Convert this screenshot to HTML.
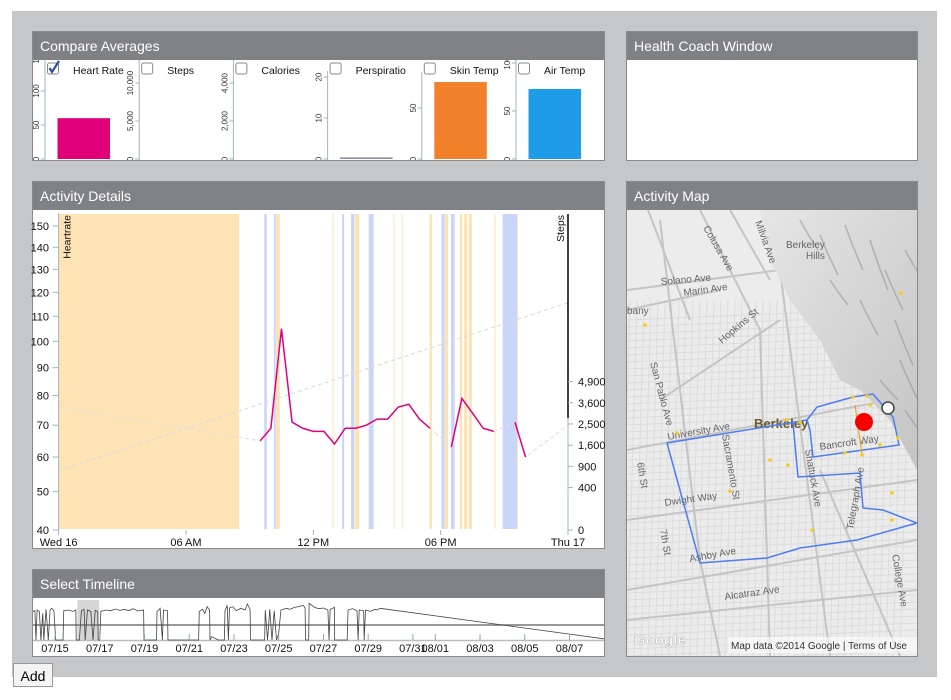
<!DOCTYPE html>
<html><head><meta charset="utf-8">
<style>
html,body{margin:0;padding:0;background:#fff;width:951px;height:700px;overflow:hidden;font-family:"Liberation Sans",sans-serif}
#wrap{position:absolute;left:12px;top:11px;width:925px;height:666px;background:#c6c7c8}
.panel{position:absolute;background:#fff;border:1px solid #8a8a8d;box-sizing:border-box}
.hdr{position:absolute;left:0;top:0;right:0;height:28px;background:#808184;color:#fff;font-size:14px;line-height:29px;padding-left:7px}
#add{position:absolute;left:13px;top:663px;width:40px;height:24px;border:1px solid #999;background:#f4f4f4;font-size:14px;line-height:24px;text-align:center;box-sizing:border-box}
svg{position:absolute;left:0;top:0}
text{font-family:"Liberation Sans",sans-serif}
</style></head><body>
<div id="wrap"></div>
<div class="panel" style="left:32px;top:31px;width:573px;height:130px"><div class="hdr">Compare Averages</div></div>
<div class="panel" style="left:626px;top:31px;width:292px;height:130px"><div class="hdr">Health Coach Window</div></div>
<div class="panel" style="left:32px;top:181px;width:573px;height:368px"><div class="hdr">Activity Details</div></div>
<div class="panel" style="left:626px;top:181px;width:292px;height:476px"><div class="hdr">Activity Map</div></div>
<div class="panel" style="left:32px;top:569px;width:573px;height:88px"><div class="hdr">Select Timeline</div></div>
<div id="add">Add</div>
<svg id="s" width="951" height="700">
<defs>
<clipPath id="mapclip"><rect x="627" y="210" width="290" height="446"/></clipPath>
<clipPath id="tlclip"><rect x="33" y="598" width="571" height="58"/></clipPath>
<clipPath id="avclip"><rect x="33" y="60" width="571" height="100"/></clipPath>
<linearGradient id="hill" x1="0" y1="0" x2="1" y2="1"><stop offset="0" stop-color="#e6e6e6"/><stop offset="1" stop-color="#c4c4c4"/></linearGradient>
</defs>
<g id="avg" clip-path="url(#avclip)"></g>
<g id="act"></g>
<g id="map" clip-path="url(#mapclip)"></g>
<g id="tl" clip-path="url(#tlclip)"></g>
</svg>
<script>
const NS='http://www.w3.org/2000/svg';
function mk(p,tag,a){const e=document.createElementNS(NS,tag);for(const k in a)e.setAttribute(k,a[k]);p.appendChild(e);return e;}

// ---------- Compare Averages data ----------
const avgLabels=['Heart Rate','Steps','Calories','Perspiratio','Skin Temp','Air Temp'];
const avgValues=[60,0,0,0.4,75.4,72.9];
const avgMax=[144,12900,5160,23.9,96,102];
const avgTicks=[[0,50,100,150],[0,5000,10000,15000],[0,2000,4000,6000],[0,10,20],[0,50],[0,50,100]];
const avgChecked=[true,false,false,false,false,false];
const avgColors=['#e2007a','#888','#888','#8f8f9f','#f1812a','#1f9ce8'];

const gA=document.getElementById('avg');
avgLabels.forEach((lab,i)=>{
  const ax=45+i*94.2, bot=159, H=98;
  const y=v=>bot-v/avgMax[i]*H;
  const g=mk(gA,'g',{});
  
  
  const line=mk(g,'line',{x1:ax,y1:i==3?71:(i==4?72:60),x2:ax,y2:bot+2,stroke:'#9fb4c4','stroke-width':1});
  
  
  avgTicks[i].forEach(t=>{
    const ty=y(t);
    mk(g,'line',{x1:ax-4,y1:ty,x2:ax,y2:ty,stroke:'#9fb4c4'});
    const tx=mk(g,'text',{x:0,y:0,'font-size':8,fill:'#333','text-anchor':'middle',transform:`translate(${ax-6},${ty}) rotate(-90)`});
    tx.textContent=t.toLocaleString('en-US');
    
    
  });
  const bh=avgValues[i]/avgMax[i]*H;
  const b=mk(g,'rect',{x:ax+12.5,y:bot-bh,width:52.5,height:bh,fill:avgColors[i]});
  
  
  const cb=mk(g,'rect',{x:ax+2.5,y:63,width:11,height:11,rx:2,fill:'#fff',stroke:'#888'});
  
  
  if(avgChecked[i]){mk(g,'path',{d:`M${ax+4.5},68 L${ax+7},72 L${ax+14},61`,fill:'none',stroke:'#2a4f9a','stroke-width':2.2});}
  const lt=mk(g,'text',{x:ax+28,y:74,'font-size':10.5,fill:'#111'});
  lt.textContent=lab;
  
  
});

// ---------- Activity Details data ----------
const hrHours=[9.5,10,10.5,11,11.5,12,12.5,13,13.5,14,14.5,15,15.5,16,16.5,17,17.5,18,18.5,19,19.5,20,20.5,21,21.5,22];
const hrValues=[65,69,105,71,69,68,68,64,69,69,70,72,72,76,77,72,69,null,63,79,74,69,68,null,71,60];
const hrEdgeValues=[76,70];
const stepsHours=[0,24];
const stepsValues=[790,11500];
const hrTicks=[40,50,60,70,80,90,100,110,120,130,140,150];
const stepsTicks=[0,400,900,1600,2500,3600,4900];
const xTickHours=[0,6,12,18,24];
const xTickLabels=['Wed 16','06 AM','12 PM','06 PM','Thu 17'];
const sleepBlocks=[[0,8.5]];
const orangeStripes=[[10.24,10.42],[12.91,12.95],[13.95,14.16],[15.78,15.82],[16.16,16.2],[17.48,17.59],[18.19,18.35],[18.9,19.02],[19.1,19.25],[19.32,19.47],[20.54,20.58],[21.6,21.64]];
const blueStripes=[[9.69,9.81],[10.14,10.23],[13.36,13.45],[13.78,13.93],[14.61,14.84],[18.04,18.18],[18.49,18.66],[20.92,21.6]];

const X0=58.6,X1=568,YB=530,YT=214;
const xT=h=>X0+h/24*(X1-X0);
const yHR=v=>YB-(Math.sqrt(v)-Math.sqrt(40))*51.33;
const ySt=v=>YB-Math.sqrt(v)*2.12;
const gD=document.getElementById('act');
sleepBlocks.forEach(s=>{const r=mk(gD,'rect',{x:xT(s[0]),y:YT,width:xT(s[1])-xT(s[0]),height:YB-YT-1,fill:'#fee3b5'});});
orangeStripes.forEach(s=>{const r=mk(gD,'rect',{x:xT(s[0]),y:YT,width:Math.max(1,xT(s[1])-xT(s[0])),height:YB-YT-1,fill:'#fee3b5'});});
blueStripes.forEach(s=>{const r=mk(gD,'rect',{x:xT(s[0]),y:YT,width:xT(s[1])-xT(s[0]),height:YB-YT-1,fill:'#c9d5f9'});});
{const p=mk(gD,'path',{d:'M'+stepsHours.map((h,i)=>xT(h)+','+ySt(stepsValues[i])).join(' L'),fill:'none',stroke:'#ddd','stroke-dasharray':'4,3','stroke-width':1.2});}
{const pts=[[0,hrEdgeValues[0]]];hrHours.forEach((h,i)=>{if(hrValues[i]!=null)pts.push([h,hrValues[i]]);});pts.push([24,hrEdgeValues[1]]);
 const p=mk(gD,'path',{d:'M'+pts.map(q=>xT(q[0])+','+yHR(q[1])).join(' L'),fill:'none',stroke:'#e8dede','stroke-dasharray':'4,3','stroke-width':1.2});}
{let d='',pen=false;hrHours.forEach((h,i)=>{const v=hrValues[i];if(v==null){pen=false;return;}d+=(pen?' L':' M')+xT(h)+','+yHR(v);pen=true;});
 const p=mk(gD,'path',{d:d,fill:'none',stroke:'#e2007a','stroke-width':1.5});}
mk(gD,'line',{x1:X0,y1:YT-1,x2:X0,y2:YB,stroke:'#9fb4c4'});
hrTicks.forEach(t=>{const y=yHR(t);mk(gD,'line',{x1:X0-6,y1:y,x2:X0,y2:y,stroke:'#9fb4c4'});const tx=mk(gD,'text',{x:49,y:y+4,'font-size':11,'text-anchor':'end',fill:'#111'});tx.textContent=t;});
{const t=mk(gD,'text',{x:0,y:0,'font-size':10.5,'text-anchor':'end',fill:'#111',transform:`translate(${X0+12},${YT+1}) rotate(-90)`});t.textContent='Heartrate';}
mk(gD,'line',{x1:X1,y1:YT,x2:X1,y2:YB,stroke:'#9fb4c4'});
mk(gD,'line',{x1:X1,y1:YT,x2:X1,y2:ySt(2800),stroke:'#000','stroke-width':1.5});
stepsTicks.forEach(t=>{const y=ySt(t);mk(gD,'line',{x1:X1,y1:y,x2:X1+5,y2:y,stroke:'#9fb4c4'});const tx=mk(gD,'text',{x:X1+10,y:y+4,'font-size':11,fill:'#111'});tx.textContent=t.toLocaleString('en-US');});
{const t=mk(gD,'text',{x:0,y:0,'font-size':10.5,'text-anchor':'end',fill:'#111',transform:`translate(${X1-4},${YT+1}) rotate(-90)`});t.textContent='Steps';}
xTickHours.forEach((h,i)=>{const x=xT(h);mk(gD,'line',{x1:x,y1:YB,x2:x,y2:YB+5,stroke:'#9fb4c4'});const tx=mk(gD,'text',{x:x,y:546,'font-size':11,'text-anchor':'middle',fill:'#111'});tx.textContent=xTickLabels[i];});

// ---------- Timeline data ----------
const tlDays=[14.0,14.1,14.15,14.2,14.3,14.37,14.45,14.5,14.6,14.7,14.78,14.85,14.95,15.03,15.36,15.39,15.6,15.8,15.93,15.95,16.09,16.18,16.3,16.35,16.45,16.6,16.7,16.8,16.91,16.93,17.0,17.05,17.3,17.5,17.7,17.9,18.1,18.3,18.5,18.7,18.96,18.98,19.54,19.56,19.7,19.8,19.85,20.03,20.05,21.42,21.45,21.6,21.7,21.8,21.91,21.93,22.0,22.3,22.57,22.6,22.7,22.75,22.8,22.95,23.1,23.3,23.5,23.6,23.72,23.74,24.37,24.4,24.5,24.6,24.7,24.8,24.9,25.0,25.1,25.36,25.5,25.7,25.9,26.1,26.18,26.2,26.34,26.36,26.6,26.8,27.0,27.2,27.25,27.3,27.49,27.5,28.06,28.1,28.3,28.5,28.55,28.6,28.8,28.82,28.88,29.1,29.3,29.4,29.54,39.6];
const tlVals=[85,88,0,90,86,0,80,0,92,0,90,95,88,0,0,88,90,86,90,0,0,88,92,0,90,86,0,89,85,0,0,86,90,88,93,89,92,88,94,87,90,0,0,85,95,0,90,88,0,0,86,92,80,100,90,0,10,0,0,88,104,0,96,100,88,95,90,108,92,0,0,90,0,92,0,88,0,20,90,95,92,98,100,104,96,0,0,110,98,94,96,90,0,92,98,0,0,90,94,88,0,90,88,0,90,86,92,90,95,3];
const tlTickDays=[15,17,19,21,23,25,27,29,31,32,34,36,38];
const tlTickLabels=['07/15','07/17','07/19','07/21','07/23','07/25','07/27','07/29','07/31','08/01','08/03','08/05','08/07'];
const tlSelection=[16.0,16.97];
const xD=d=>55+(d-15)*22.37;
const yTL=v=>640-v/120*40;
const gT=document.getElementById('tl');
{const r=mk(gT,'rect',{x:xD(tlSelection[0]),y:600,width:xD(tlSelection[1])-xD(tlSelection[0]),height:40,fill:'#d6d6d6'});}
mk(gT,'line',{x1:33,y1:625,x2:604,y2:625,stroke:'#777','stroke-width':1.5});
mk(gT,'line',{x1:33,y1:640.5,x2:604,y2:640.5,stroke:'#bbb','stroke-width':1.5});
{const p=mk(gT,'path',{d:'M'+tlDays.map((d,i)=>xD(d)+','+yTL(tlVals[i])).join(' L'),fill:'none',stroke:'#444','stroke-width':0.8});}
tlTickDays.forEach((d,i)=>{const x=xD(d);mk(gT,'line',{x1:x,y1:634,x2:x,y2:640,stroke:'#8aa'});const t=mk(gT,'text',{x:x,y:652,'font-size':11,'text-anchor':'middle',fill:'#111'});t.textContent=tlTickLabels[i];});

// ---------- Map ----------
const gM=document.getElementById('map');
mk(gM,'rect',{x:627,y:210,width:290,height:446,fill:'#ececec'});
for(let x=630;x<917;x+=7)mk(gM,'line',{x1:x,y1:300,x2:x-10,y2:656,stroke:'#dcdcdc','stroke-width':1});
for(let y=320;y<670;y+=7)mk(gM,'line',{x1:627,y1:y,x2:917,y2:y-12,stroke:'#dcdcdc','stroke-width':1});
const roads=['M660,220 L700,560 L720,656','M700,210 L760,330 L770,656','M730,210 L770,280','M627,290 L780,270','M627,310 L720,290','M627,450 L890,400','M627,520 L917,480','M627,590 L917,540','M627,620 L917,590','M780,270 L830,656','M820,470 L900,656','M648,210 L690,320','M660,400 L780,320'];
roads.forEach(d=>mk(gM,'path',{d:d,fill:'none',stroke:'#c4c4c4','stroke-width':2}));
mk(gM,'path',{d:'M760,210 L917,210 L917,470 L890,420 L860,390 L840,380 L820,340 L790,300 L770,260 Z',fill:'url(#hill)'});
const streaks=[[800,220,30],[820,235,40],[845,225,45],[870,240,50],[885,270,40],[860,300,35],[895,320,45],[900,360,40],[880,380,20],[830,280,25],[905,250,30],[905,410,25]];
streaks.forEach(s=>mk(gM,'path',{d:`M${s[0]},${s[1]} q8,${s[2]/2} 18,${s[2]}`,fill:'none',stroke:'#8f8f8f','stroke-width':1.5,opacity:.55}));
const mapLabels=[['Solano Ave',661,285,-5],['Marin Ave',684,296,-8],['Berkeley',786,248,0],['Hills',806,259,0],['bany',627,314,0],['Hopkins St',722,344,-40],['San Pablo Ave',650,363,75],['University Ave',668,440,-10],['Sacramento St',722,435,80],['Shattuck Ave',805,450,80],['Bancroft Way',820,450,-8],['Dwight Way',665,506,-8],['7th St',660,530,80],['Ashby Ave',690,562,-10],['Alcatraz Ave',725,600,-8],['Telegraph Ave',853,530,-80],['College Ave',892,555,80],['Colusa Ave',703,228,60],['Milvia Ave',755,222,70],['6th St',637,463,80]];
mapLabels.forEach(l=>{const t=mk(gM,'text',{x:0,y:0,'font-size':10,fill:'#666',transform:`translate(${l[1]},${l[2]}) rotate(${l[3]})`});t.textContent=l[0];});
{const t=mk(gM,'text',{x:754,y:428,'font-size':13,'font-weight':'bold',fill:'#6d5a2a'});t.textContent='Berkeley';}
const route=['M667,443 L807,420 L817,407 L853,397 L873,394 L893,417 L899,445 L813,457 L810,430 L807,420','M667,443 L700,563 L767,558 L800,548 L857,540 L917,523','M793,423 L798,477 L860,473 L863,508 L883,510 L917,523'];
route.forEach(d=>{const p=mk(gM,'path',{d:d,fill:'none',stroke:'#4d7cf0','stroke-width':1.5});});
mk(gM,'path',{d:'M855,405 L860,440 L862,455',fill:'none',stroke:'#f0a020','stroke-width':1.2});
[[853,397],[867,396],[870,405],[862,455],[880,445],[845,453],[800,422],[786,420],[677,433],[901,293],[645,325],[770,460],[788,465],[892,493],[892,520],[812,530],[730,491],[898,438]].forEach(p=>mk(gM,'circle',{cx:p[0],cy:p[1],r:1.8,fill:'#f4cc1a'}));
{const c=mk(gM,'circle',{cx:864,cy:422,r:9,fill:'#f80000'});}
mk(gM,'circle',{cx:888,cy:408,r:6,fill:'#fff',stroke:'#444','stroke-width':1.5});
mk(gM,'rect',{x:728,y:637,width:189,height:16,fill:'#fff',opacity:.6});
{const t=mk(gM,'text',{x:731,y:649,'font-size':10,fill:'#333'});t.textContent='Map data ©2014 Google  |  Terms of Use';}
{const t=mk(gM,'text',{x:634,y:645,'font-size':15,'font-weight':'bold',fill:'#fff',stroke:'#bbb','stroke-width':.6});t.textContent='Google';}
</script>
</body></html>
